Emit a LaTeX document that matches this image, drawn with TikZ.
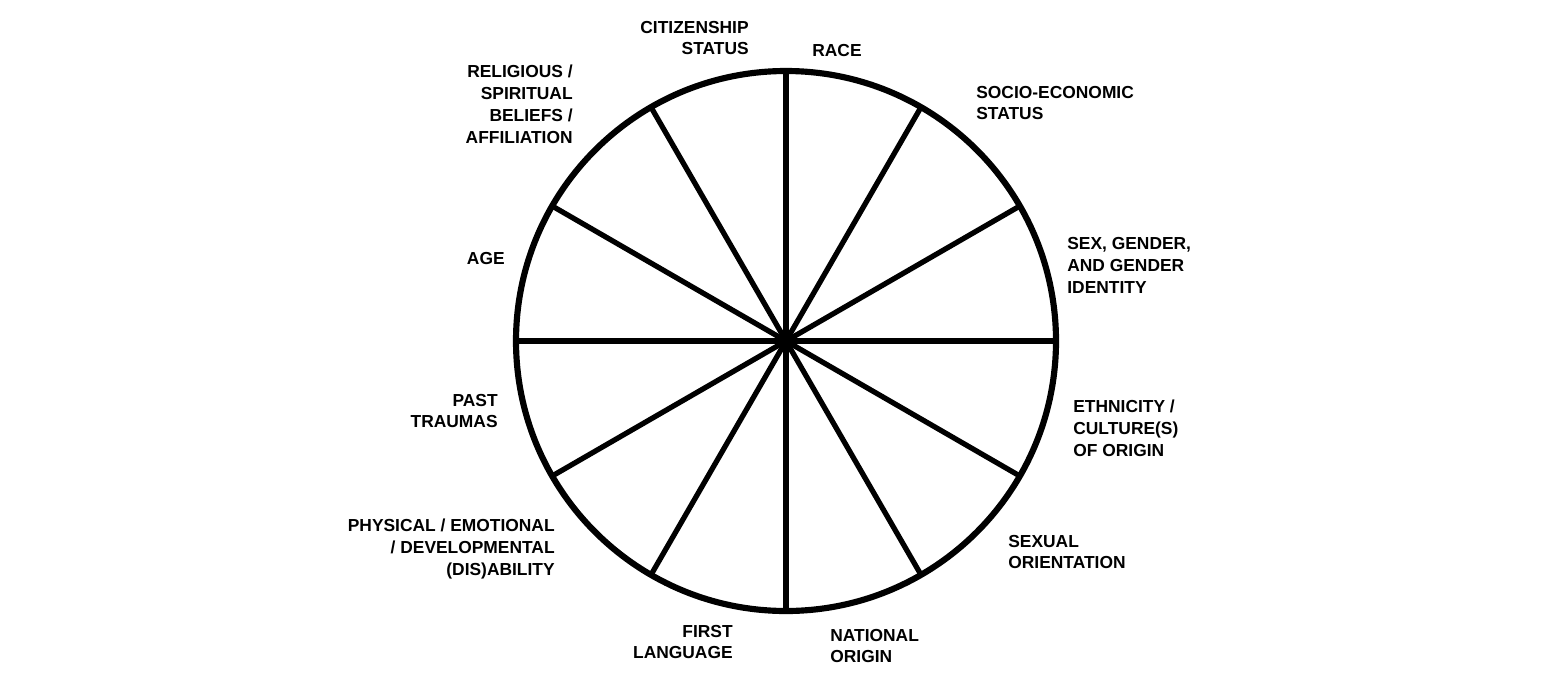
\documentclass[tikz,border=0pt]{standalone}
\usepackage{fontspec}
\setmainfont{Liberation Sans}
\usetikzlibrary{calc,positioning}
\tikzset{
    wheel/.style={
    draw=black,line width=3.5pt
    },
    spoke/.style={
    draw=black,line width=3pt
    },
    facetl/.style={
    anchor=west,align=left,inner sep=0pt,font=\bfseries\fontsize{9.9}{12.5}\selectfont
    },
    facetr/.style={
    anchor=east,align=right,inner sep=0pt,font=\bfseries\fontsize{9.9}{12.5}\selectfont
    },
}
\begin{document}
\begin{tikzpicture}[x=0.02cm, y=-0.02cm]
   \useasboundingbox (0,0) rectangle (1568,683);
   \coordinate (O) at (786,341);
   \draw[wheel] (O) circle[radius=270];
   \foreach \a in {0,30,...,330}
     \draw[spoke] (O) -- ($(O)+(\a:270)$);
   \fill (O) circle[radius=7];

   \node[facetr] (cit) at (749,38) {CITIZENSHIP\\STATUS};
   \node[facetl] (race) at (812,51) {RACE};
   \node[facetl] (ses) at (976,103) {SOCIO-ECONOMIC\\STATUS};
   \node[facetl] (sex) at (1067,265) {SEX, GENDER,\\AND GENDER\\IDENTITY};
   \node[facetl] (eth) at (1073,428) {ETHNICITY /\\CULTURE(S)\\OF ORIGIN};
   \node[facetl] (sor) at (1008,552) {SEXUAL\\ORIENTATION};
   \node[facetl] (nat) at (830,646) {NATIONAL\\ORIGIN};
   \node[facetr] (lang) at (733,642) {FIRST\\LANGUAGE};
   \node[facetr] (dis) at (555,549) {PHYSICAL / EMOTIONAL\\/ DEVELOPMENTAL\\(DIS)ABILITY};
   \node[facetr] (pt) at (498,411) {PAST\\TRAUMAS};
   \node[facetr] (age) at (505,259) {AGE};
   \node[facetr] (rel) at (573,104) {RELIGIOUS /\\SPIRITUAL\\BELIEFS /\\AFFILIATION};
\end{tikzpicture}
\end{document}
